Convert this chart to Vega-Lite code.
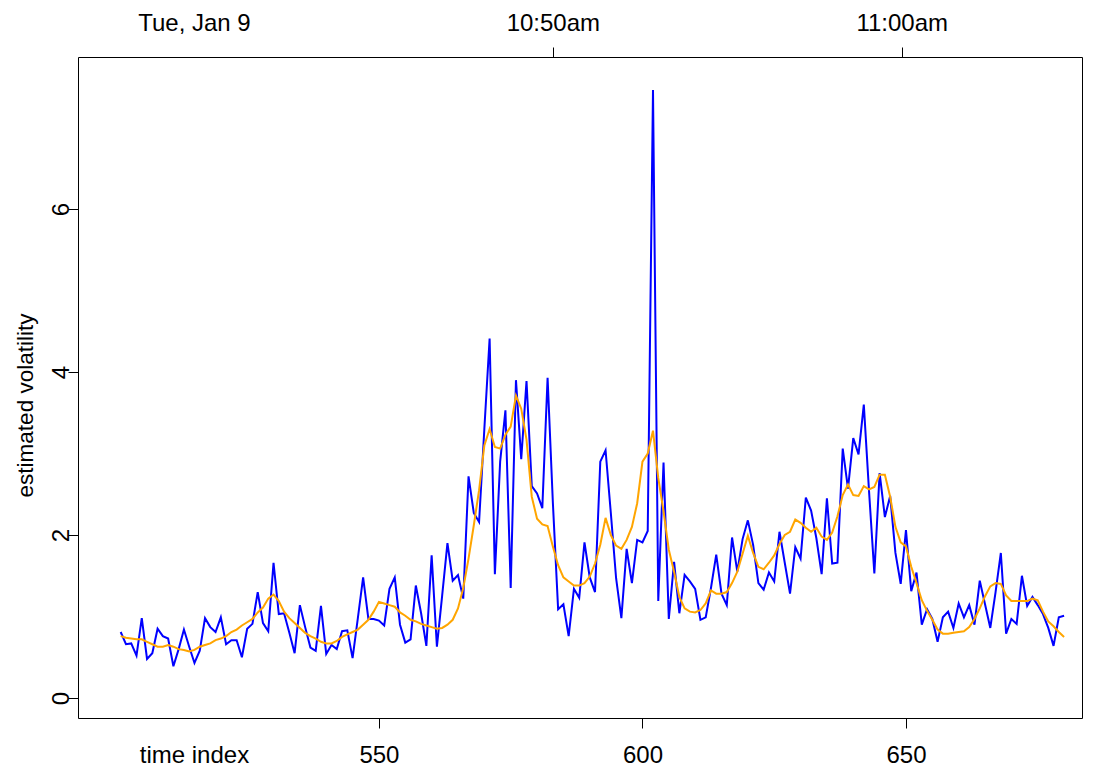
{
  "$schema": "https://vega.github.io/schema/vega-lite/v6.json",
  "width": 1004,
  "height": 661,
  "autosize": "none",
  "padding": {"left": 78, "top": 57, "right": 11, "bottom": 53},
  "background": "white",
  "config": {
    "view": {"stroke": "black", "strokeWidth": 1},
    "font": "Liberation Sans",
    "axis": {"labelFont": "Liberation Sans", "titleFont": "Liberation Sans", "labelColor": "black", "titleColor": "black", "tickColor": "black", "domain": false, "grid": false, "labelFontSize": 24, "titleFontWeight": "normal", "titleFontSize": 22.5, "tickSize": 10, "tickWidth": 1}
  },
  "data": {"values": [
    {"t":501,"vol":0.81,"smooth":0.76},{"t":502,"vol":0.66,"smooth":0.74},{"t":503,"vol":0.67,"smooth":0.73},{"t":504,"vol":0.52,"smooth":0.72},{"t":505,"vol":0.98,"smooth":0.72},
    {"t":506,"vol":0.48,"smooth":0.69},{"t":507,"vol":0.55,"smooth":0.66},{"t":508,"vol":0.85,"smooth":0.63},{"t":509,"vol":0.76,"smooth":0.63},{"t":510,"vol":0.73,"smooth":0.65},
    {"t":511,"vol":0.39,"smooth":0.63},{"t":512,"vol":0.60,"smooth":0.60},{"t":513,"vol":0.84,"smooth":0.59},{"t":514,"vol":0.63,"smooth":0.57},{"t":515,"vol":0.43,"smooth":0.59},
    {"t":516,"vol":0.58,"smooth":0.63},{"t":517,"vol":0.98,"smooth":0.65},{"t":518,"vol":0.87,"smooth":0.67},{"t":519,"vol":0.81,"smooth":0.71},{"t":520,"vol":0.99,"smooth":0.73},
    {"t":521,"vol":0.66,"smooth":0.76},{"t":522,"vol":0.71,"smooth":0.81},{"t":523,"vol":0.71,"smooth":0.84},{"t":524,"vol":0.50,"smooth":0.89},{"t":525,"vol":0.85,"smooth":0.93},
    {"t":526,"vol":0.91,"smooth":0.97},{"t":527,"vol":1.30,"smooth":1.05},{"t":528,"vol":0.92,"smooth":1.11},{"t":529,"vol":0.82,"smooth":1.22},{"t":530,"vol":1.66,"smooth":1.27},
    {"t":531,"vol":1.03,"smooth":1.19},{"t":532,"vol":1.04,"smooth":1.06},{"t":533,"vol":0.80,"smooth":0.98},{"t":534,"vol":0.55,"smooth":0.92},{"t":535,"vol":1.14,"smooth":0.86},
    {"t":536,"vol":0.87,"smooth":0.80},{"t":537,"vol":0.62,"smooth":0.76},{"t":538,"vol":0.58,"smooth":0.73},{"t":539,"vol":1.13,"smooth":0.69},{"t":540,"vol":0.54,"smooth":0.67},
    {"t":541,"vol":0.65,"smooth":0.67},{"t":542,"vol":0.60,"smooth":0.70},{"t":543,"vol":0.82,"smooth":0.75},{"t":544,"vol":0.83,"smooth":0.78},{"t":545,"vol":0.49,"smooth":0.81},
    {"t":546,"vol":0.98,"smooth":0.84},{"t":547,"vol":1.48,"smooth":0.90},{"t":548,"vol":0.97,"smooth":0.96},{"t":549,"vol":0.97,"smooth":1.06},{"t":550,"vol":0.95,"smooth":1.18},
    {"t":551,"vol":0.89,"smooth":1.16},{"t":552,"vol":1.34,"smooth":1.14},{"t":553,"vol":1.48,"smooth":1.12},{"t":554,"vol":0.90,"smooth":1.05},{"t":555,"vol":0.68,"smooth":1.01},
    {"t":556,"vol":0.72,"smooth":0.96},{"t":557,"vol":1.38,"smooth":0.94},{"t":558,"vol":1.04,"smooth":0.91},{"t":559,"vol":0.64,"smooth":0.89},{"t":560,"vol":1.75,"smooth":0.87},
    {"t":561,"vol":0.63,"smooth":0.85},{"t":562,"vol":1.26,"smooth":0.86},{"t":563,"vol":1.90,"smooth":0.90},{"t":564,"vol":1.44,"smooth":0.96},{"t":565,"vol":1.51,"smooth":1.10},
    {"t":566,"vol":1.22,"smooth":1.35},{"t":567,"vol":2.72,"smooth":1.71},{"t":568,"vol":2.27,"smooth":2.12},{"t":569,"vol":2.16,"smooth":2.55},{"t":570,"vol":3.30,"smooth":3.10},
    {"t":571,"vol":4.41,"smooth":3.30},{"t":572,"vol":1.52,"smooth":3.08},{"t":573,"vol":2.90,"smooth":3.06},{"t":574,"vol":3.53,"smooth":3.23},{"t":575,"vol":1.35,"smooth":3.33},
    {"t":576,"vol":3.90,"smooth":3.71},{"t":577,"vol":2.93,"smooth":3.55},{"t":578,"vol":3.89,"smooth":3.17},{"t":579,"vol":2.60,"smooth":2.47},{"t":580,"vol":2.51,"smooth":2.20},
    {"t":581,"vol":2.33,"smooth":2.13},{"t":582,"vol":3.93,"smooth":2.11},{"t":583,"vol":2.40,"smooth":1.86},{"t":584,"vol":1.09,"smooth":1.63},{"t":585,"vol":1.15,"smooth":1.48},
    {"t":586,"vol":0.76,"smooth":1.43},{"t":587,"vol":1.34,"smooth":1.38},{"t":588,"vol":1.23,"smooth":1.38},{"t":589,"vol":1.91,"smooth":1.41},{"t":590,"vol":1.48,"smooth":1.49},
    {"t":591,"vol":1.30,"smooth":1.65},{"t":592,"vol":2.90,"smooth":1.88},{"t":593,"vol":3.04,"smooth":2.21},{"t":594,"vol":2.27,"smooth":2.00},{"t":595,"vol":1.47,"smooth":1.87},
    {"t":596,"vol":0.98,"smooth":1.83},{"t":597,"vol":1.83,"smooth":1.94},{"t":598,"vol":1.41,"smooth":2.10},{"t":599,"vol":1.94,"smooth":2.39},{"t":600,"vol":1.91,"smooth":2.90},
    {"t":601,"vol":2.05,"smooth":3.00},{"t":602,"vol":7.46,"smooth":3.28},{"t":603,"vol":1.19,"smooth":2.70},{"t":604,"vol":2.89,"smooth":2.29},{"t":605,"vol":0.97,"smooth":1.82},
    {"t":606,"vol":1.67,"smooth":1.55},{"t":607,"vol":1.04,"smooth":1.24},{"t":608,"vol":1.51,"smooth":1.10},{"t":609,"vol":1.43,"smooth":1.06},{"t":610,"vol":1.34,"smooth":1.05},
    {"t":611,"vol":0.96,"smooth":1.08},{"t":612,"vol":0.99,"smooth":1.16},{"t":613,"vol":1.35,"smooth":1.32},{"t":614,"vol":1.76,"smooth":1.28},{"t":615,"vol":1.28,"smooth":1.28},
    {"t":616,"vol":1.14,"smooth":1.30},{"t":617,"vol":1.97,"smooth":1.41},{"t":618,"vol":1.55,"smooth":1.55},{"t":619,"vol":1.95,"smooth":1.77},{"t":620,"vol":2.18,"smooth":1.99},
    {"t":621,"vol":1.88,"smooth":1.78},{"t":622,"vol":1.41,"smooth":1.61},{"t":623,"vol":1.33,"smooth":1.58},{"t":624,"vol":1.54,"smooth":1.66},{"t":625,"vol":1.43,"smooth":1.75},
    {"t":626,"vol":2.04,"smooth":1.89},{"t":627,"vol":1.66,"smooth":2.00},{"t":628,"vol":1.28,"smooth":2.04},{"t":629,"vol":1.85,"smooth":2.19},{"t":630,"vol":1.71,"smooth":2.15},
    {"t":631,"vol":2.46,"smooth":2.09},{"t":632,"vol":2.30,"smooth":2.04},{"t":633,"vol":1.96,"smooth":2.09},{"t":634,"vol":1.52,"smooth":1.98},{"t":635,"vol":2.45,"smooth":1.94},
    {"t":636,"vol":1.65,"smooth":2.03},{"t":637,"vol":1.66,"smooth":2.23},{"t":638,"vol":3.06,"smooth":2.49},{"t":639,"vol":2.57,"smooth":2.62},{"t":640,"vol":3.19,"smooth":2.49},
    {"t":641,"vol":2.99,"smooth":2.48},{"t":642,"vol":3.60,"smooth":2.60},{"t":643,"vol":2.53,"smooth":2.56},{"t":644,"vol":1.53,"smooth":2.59},{"t":645,"vol":2.76,"smooth":2.74},
    {"t":646,"vol":2.22,"smooth":2.74},{"t":647,"vol":2.48,"smooth":2.47},{"t":648,"vol":1.78,"smooth":2.10},{"t":649,"vol":1.40,"smooth":1.91},{"t":650,"vol":2.06,"smooth":1.86},
    {"t":651,"vol":1.31,"smooth":1.61},{"t":652,"vol":1.54,"smooth":1.41},{"t":653,"vol":0.90,"smooth":1.20},{"t":654,"vol":1.09,"smooth":1.07},{"t":655,"vol":0.97,"smooth":0.96},
    {"t":656,"vol":0.69,"smooth":0.84},{"t":657,"vol":0.99,"smooth":0.79},{"t":658,"vol":1.06,"smooth":0.79},{"t":659,"vol":0.86,"smooth":0.80},{"t":660,"vol":1.16,"smooth":0.81},
    {"t":661,"vol":0.99,"smooth":0.82},{"t":662,"vol":1.14,"smooth":0.87},{"t":663,"vol":0.90,"smooth":0.97},{"t":664,"vol":1.44,"smooth":1.10},{"t":665,"vol":1.15,"smooth":1.25},
    {"t":666,"vol":0.86,"smooth":1.37},{"t":667,"vol":1.30,"smooth":1.41},{"t":668,"vol":1.78,"smooth":1.40},{"t":669,"vol":0.79,"smooth":1.26},{"t":670,"vol":0.97,"smooth":1.19},
    {"t":671,"vol":0.91,"smooth":1.19},{"t":672,"vol":1.50,"smooth":1.19},{"t":673,"vol":1.13,"smooth":1.19},{"t":674,"vol":1.24,"smooth":1.22},{"t":675,"vol":1.14,"smooth":1.20},
    {"t":676,"vol":1.03,"smooth":1.06},{"t":677,"vol":0.86,"smooth":0.94},{"t":678,"vol":0.64,"smooth":0.88},{"t":679,"vol":0.99,"smooth":0.81},{"t":680,"vol":1.01,"smooth":0.75}
  ]},
  "layer": [
    {
      "mark": {"type": "line", "color": "#0000FF", "strokeWidth": 2},
      "encoding": {
        "x": {"field": "t", "type": "quantitative", "scale": {"domain": [492.9, 683.4], "nice": false, "zero": false},
          "axis": {"orient": "bottom", "title": null, "values": [514.9, 550, 600, 650], "labelExpr": "datum.value < 520 ? 'time index' : datum.label", "labelPadding": 15, "labelFlush": false,
            "tickOpacity": {"condition": {"test": "datum.value < 520", "value": 0}, "value": 1}}},
        "y": {"field": "vol", "type": "quantitative", "scale": {"domain": [-0.245, 7.865], "nice": false, "zero": false},
          "axis": {"title": "estimated volatility", "values": [0, 2, 4, 6], "format": "d", "labelAngle": -90, "labelAlign": "center", "labelBaseline": "alphabetic", "labelPadding": 0, "titlePadding": 12, "titleY": 348}}
      }
    },
    {
      "mark": {"type": "line", "color": "#FFA500", "strokeWidth": 2},
      "encoding": {
        "x": {"field": "t", "type": "quantitative",
          "axis": {"orient": "top", "title": null, "values": [514.9, 583, 649.2], "labelExpr": "datum.value < 520 ? 'Tue, Jan 9' : (datum.value < 600 ? '10:50am' : '11:00am')", "labelPadding": 12, "labelFlush": false,
            "tickOpacity": {"condition": {"test": "datum.value < 520", "value": 0}, "value": 1}}},
        "y": {"field": "smooth", "type": "quantitative"}
      }
    }
  ],
  "resolve": {"axis": {"x": "independent"}}
}
